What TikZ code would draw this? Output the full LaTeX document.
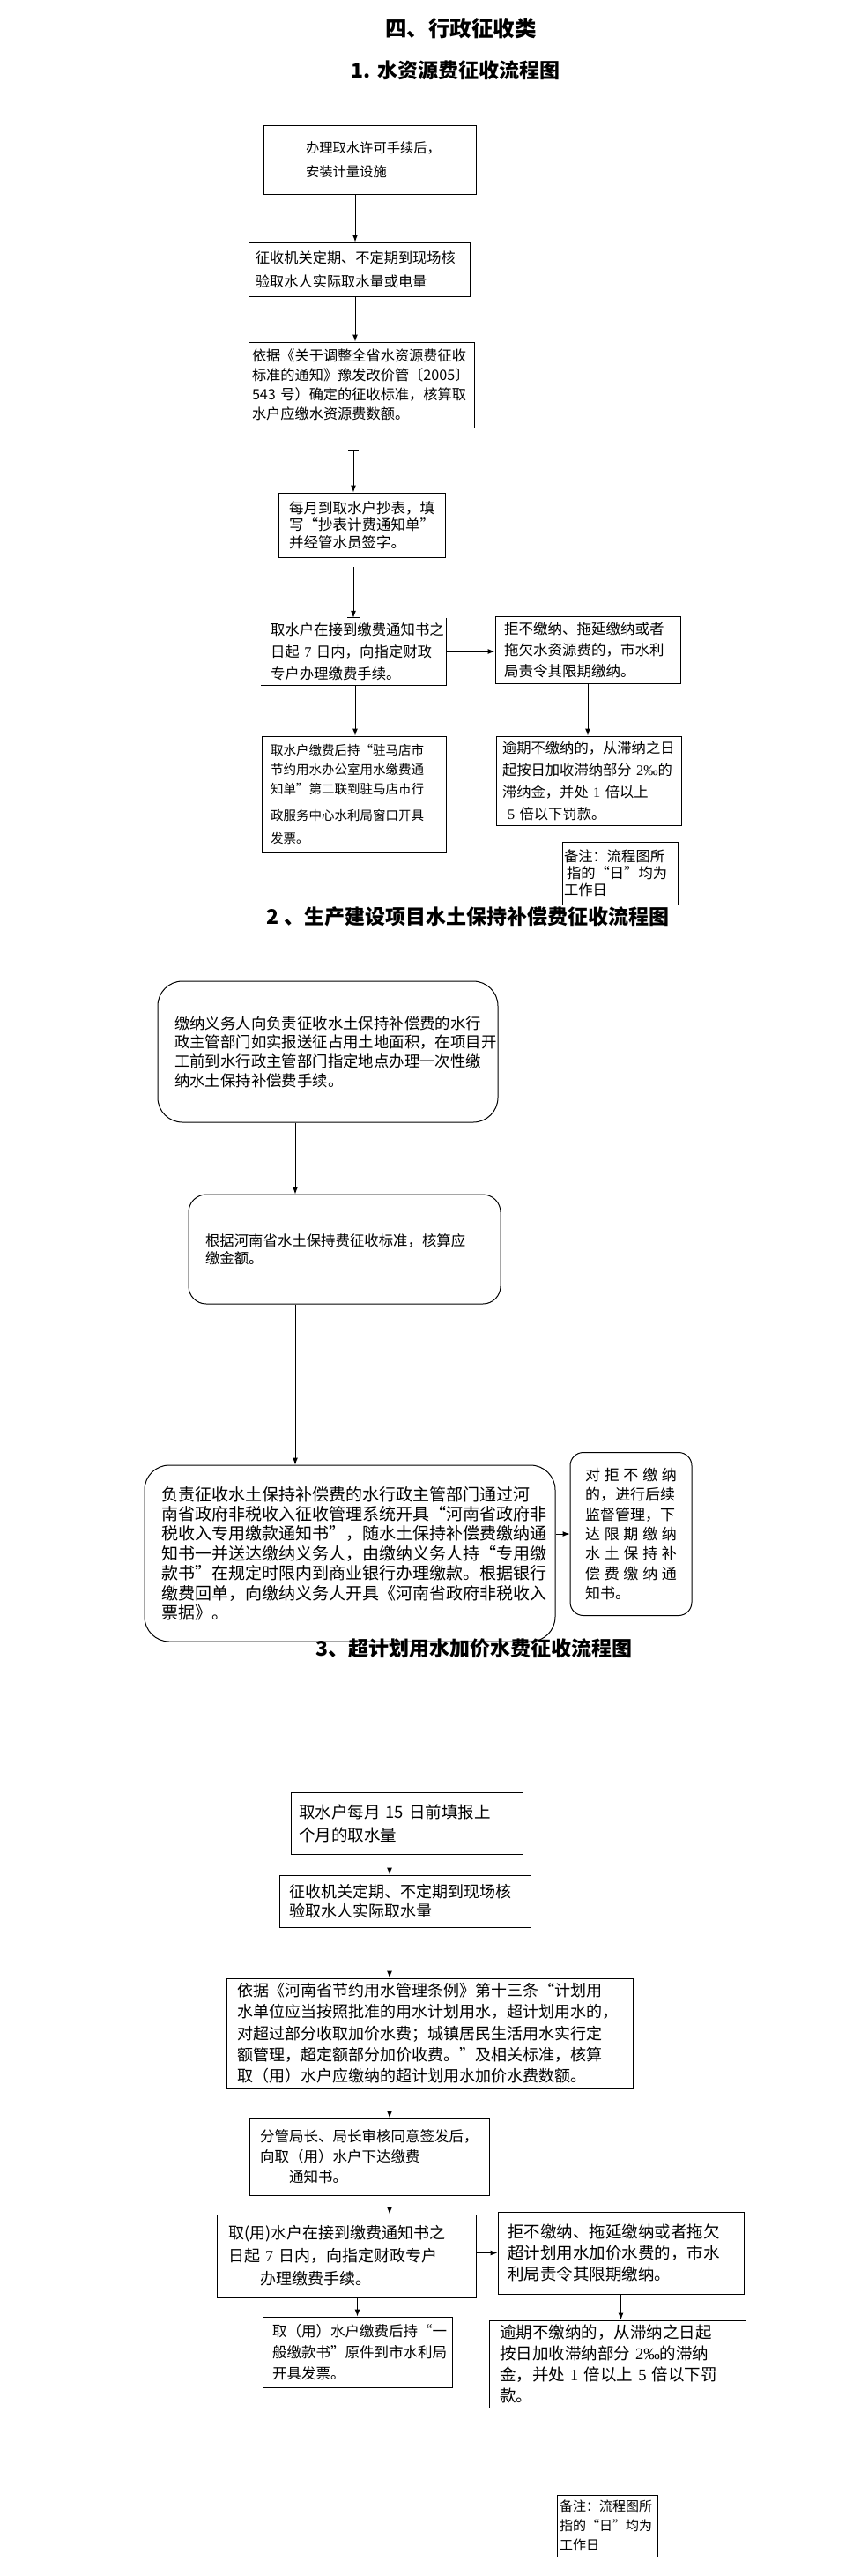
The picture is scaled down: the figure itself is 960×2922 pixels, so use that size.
\documentclass[tikz,border=0pt]{standalone}
\usepackage{fontspec}
\setmainfont{Noto Sans CJK SC}
\newfontfamily\numfont{Liberation Serif}
\usetikzlibrary{arrows.meta,positioning}
\newcommand\oq{\makebox[1em][r]{“}}
\newcommand\cq{\makebox[1em][l]{”}}
\newcommand\numtxt[1]{{\numfont #1}}
\newcommand\jline[1]{\makebox[\linewidth][l]{#1}}

\begin{document}
\begin{tikzpicture}[x=1pt,y=-1pt,
  box/.style={draw,line width=1pt,inner ysep=0pt,align=left},
  rbox/.style={box,rounded corners=#1},rbox/.default=20pt,
  arr/.style={line width=1pt,-{Latex[length=8pt,width=6pt]}},
  ttl/.style={font=\fontsize{23}{23}\selectfont\bfseries}]
\fill[white] (0,0) rectangle (960,2922);
\useasboundingbox (0,0) rectangle (960,2922);

% titles
\node[font=\fontsize{24.5}{25}\selectfont\bfseries] (ttl) at (523,32) {四、行政征收类};
\node[ttl] (ttl1) at (517,80) {1. 水资源费征收流程图};

% 1. water resource fee
\coordinate (ax1) at (403,0);
\node[box,font=\fontsize{15.3}{27}\selectfont,minimum height=77pt,text width=145pt,inner xsep=48pt] (s1) at (419.5,181.5) {办理取水许可手续后，\\安装计量设施};
\node[box,font=\fontsize{16.2}{27}\selectfont,minimum height=61pt,text width=235pt,inner xsep=8pt] (s2) at (407.5,305.5) {征收机关定期、不定期到现场核\\验取水人实际取水量或电量};
\node[box,font=\fontsize{16.2}{22}\selectfont,minimum height=97pt,text width=248pt,inner xsep=4pt] (s3) at (410,436.5) {依据《关于调整全省水资源费征收\\标准的通知》豫发改价管〔2005〕\\543~号）确定的征收标准，核算取\\水户应缴水资源费数额。};
\coordinate (t1) at (401,511);
\node[box,font=\fontsize{16.5}{19.5}\selectfont,minimum height=73pt,text width=165pt,inner xsep=12pt] (s4) at (410.5,595.5) {每月到取水户抄表，填\\写\oq 抄表计费通知单\cq\\并经管水员签字。};
\coordinate (t2) at (401,643);
\node[font=\fontsize{16.4}{25}\selectfont,align=left,inner ysep=0pt,minimum height=76pt,text width=188pt,inner xsep=11pt] (s5) at (401,739) {取水户在接到缴费通知书之\\日起~\numtxt{7}~日内，向指定财政\\专户办理缴费手续。};
\node[box,font=\fontsize{16.5}{24}\selectfont,minimum height=76pt,text width=190pt,inner xsep=10pt] (s6) at (667,737) {拒不缴纳、拖延缴纳或者\\拖欠水资源费的，市水利\\局责令其限期缴纳。};
\node[box,font=\fontsize{14.5}{22}\selectfont,minimum height=132pt,text width=189pt,inner xsep=10pt] (s7) at (401.5,901) {取水户缴费后持\oq 驻马店市\\节约用水办公室用水缴费通\\知单\cq 第二联到驻马店市行\\[8pt]政服务中心水利局窗口开具\\[4pt]发票。};
\node[box,font=\fontsize{16.3}{25}\selectfont,minimum height=101pt,text width=196pt,inner xsep=7pt] (s8) at (668,885.5) {逾期不缴纳的，从滞纳之日\\起按日加收滞纳部分~\numtxt{2‰}的\\滞纳金，并处~\numtxt{1}~倍以上\\\hspace*{6pt}\numtxt{5}~倍以下罚款。};
\node[box,font=\fontsize{16.3}{19}\selectfont,minimum height=71pt,text width=127pt,inner xsep=2pt] (s9) at (703.5,990.5) {备注：流程图所\\\hspace*{3pt}指的\oq 日\cq 均为\\工作日};

\draw[arr] (ax1 |- s1.south) -- (ax1 |- s2.north);
\draw[arr] (ax1 |- s2.south) -- (ax1 |- s3.north);
\draw[line width=1pt,{Bar[width=12pt]}-{Latex[length=8pt,width=6pt]}] (t1) -- (t1 |- s4.north);
\draw[arr] (t2) -- (t2 |- s5.north);
\draw[line width=1pt] ([xshift=-7pt]s5.north) -- ([xshift=7pt]s5.north);
\draw[line width=1pt] (s5.north east) -- (s5.south east) -- (s5.south west);
\draw[arr] (s5.east) -- (s5.east -| s6.west);
\draw[arr] (s6.south) -- (s6.south |- s8.north);
\draw[arr] (ax1 |- s5.south) -- (ax1 |- s7.north);
\draw[line width=1pt] ([yshift=34pt]s7.south west) -- ([yshift=34pt]s7.south east);

% 2. soil and water conservation fee
\node[ttl] (ttl2) at (531,1040) {2 、生产建设项目水土保持补偿费征收流程图};
\coordinate (ax2) at (335,0);
\node[rbox=28pt,font=\fontsize{17.4}{21.7}\selectfont,minimum height=160pt,text width=348pt,inner xsep=19pt] (w1) at (372,1193) {缴纳义务人向负责征收水土保持补偿费的水行\\政主管部门如实报送征占用土地面积，在项目开\\工前到水行政主管部门指定地点办理一次性缴\\纳水土保持补偿费手续。};
\node[rbox=20pt,font=\fontsize{16.4}{20}\selectfont,minimum height=124pt,text width=316pt,inner xsep=19pt] (w2) at (391,1417) {根据河南省水土保持费征收标准，核算应\\缴金额。};
\node[rbox=28pt,font=\fontsize{19}{22.4}\selectfont,minimum height=200pt,text width=428pt,inner xsep=19pt] (w3) at (397,1762) {负责征收水土保持补偿费的水行政主管部门通过河\\南省政府非税收入征收管理系统开具\oq 河南省政府非\\税收入专用缴款通知书\cq ，随水土保持补偿费缴纳通\\知书一并送达缴纳义务人，由缴纳义务人持\oq 专用缴\\款书\cq 在规定时限内到商业银行办理缴款。根据银行\\缴费回单，向缴纳义务人开具《河南省政府非税收入\\票据》。};
\node[rbox=15pt,font=\fontsize{17}{22.3}\selectfont,minimum height=185pt,text width=104pt,inner xsep=17pt] (w4) at (716,1740) {\jline{对\hfill 拒\hfill 不\hfill 缴\hfill 纳}\\的，进行后续\\监督管理，下\\\jline{达\hfill 限\hfill 期\hfill 缴\hfill 纳}\\\jline{水\hfill 土\hfill 保\hfill 持\hfill 补}\\\jline{偿\hfill 费\hfill 缴\hfill 纳\hfill 通}\\知书。};

\draw[arr] (ax2 |- w1.south) -- (ax2 |- w2.north);
\draw[arr] (ax2 |- w2.south) -- (ax2 |- w3.north);
\draw[arr] (w4.west -| w3.east) -- (w4.west);

% 3. over-plan water surcharge
\node[ttl] (ttl3) at (537.5,1870) {3、超计划用水加价水费征收流程图};
\coordinate (ax3) at (442,0);
\node[box,font=\fontsize{18.5}{26}\selectfont,minimum height=70pt,text width=245pt,inner xsep=9pt] (q1) at (461.5,2068) {取水户每月~15~日前填报上\\个月的取水量};
\node[box,font=\fontsize{18}{22}\selectfont,minimum height=59pt,text width=263pt,inner xsep=11pt] (q2) at (459.5,2156.5) {征收机关定期、不定期到现场核\\验取水人实际取水量};
\node[box,font=\fontsize{18}{24.3}\selectfont,minimum height=125pt,text width=437pt,inner xsep=12pt] (q3) at (487.5,2306.5) {依据《河南省节约用水管理条例》第十三条\oq 计划用\\水单位应当按照批准的用水计划用水，超计划用水的，\\对超过部分收取加价水费；城镇居民生活用水实行定\\额管理，超定额部分加价收费。\cq 及相关标准，核算\\取（用）水户应缴纳的超计划用水加价水费数额。};
\node[box,font=\fontsize{16.5}{23}\selectfont,minimum height=87pt,text width=248pt,inner xsep=12pt] (q4) at (419,2446.5) {分管局长、局长审核同意签发后，\\向取（用）水户下达缴费\\\hspace*{2em}通知书。};
\node[box,font=\fontsize{18}{26}\selectfont,minimum height=94pt,text width=268pt,inner xsep=13pt] (q5) at (393,2559) {取(用)水户在接到缴费通知书之\\日起~\numtxt{7}~日内，向指定财政专户\\\hspace*{2em}办理缴费手续。};
\node[box,font=\fontsize{18.5}{24}\selectfont,minimum height=93pt,text width=257pt,inner xsep=11pt] (q6) at (704.5,2555.5) {拒不缴纳、拖延缴纳或者拖欠\\超计划用水加价水费的，市水\\利局责令其限期缴纳。};
\node[box,font=\fontsize{18.5}{24}\selectfont,minimum height=99pt,text width=267pt,inner xsep=12pt] (q7) at (700.5,2681.5) {逾期不缴纳的，从滞纳之日起\\按日加收滞纳部分~\numtxt{2‰}的滞纳\\金，并处~\numtxt{1}~倍以上~\numtxt{5}~倍以下罚\\款。};
\node[box,font=\fontsize{16.5}{24}\selectfont,minimum height=80pt,text width=193pt,inner xsep=11pt] (q8) at (405.5,2668) {取（用）水户缴费后持\oq 一\\般缴款书\cq 原件到市水利局\\开具发票。};
\node[box,font=\fontsize{15}{22}\selectfont,minimum height=70pt,text width=108pt,inner xsep=3pt] (q9) at (689,2865) {备注：流程图所\\指的\oq 日\cq 均为\\工作日};

\draw[arr] (ax3 |- q1.south) -- (ax3 |- q2.north);
\draw[arr] (ax3 |- q2.south) -- (ax3 |- q3.north);
\draw[arr] (ax3 |- q3.south) -- (ax3 |- q4.north);
\draw[arr] (ax3 |- q4.south) -- (ax3 |- q5.north);
\draw[arr] (q6.west -| q5.east) -- (q6.west);
\draw[arr] (q6.south) -- (q6.south |- q7.north);
\draw[arr] (q8.north |- q5.south) -- (q8.north);
\end{tikzpicture}
\end{document}
